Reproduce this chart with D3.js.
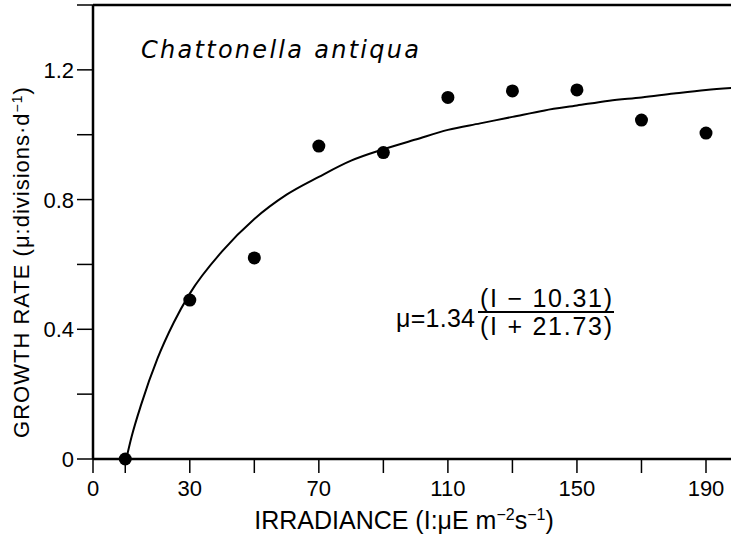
<!DOCTYPE html>
<html lang="en">
<head>
<meta charset="UTF-8">
<title>Chattonella antiqua</title>
<script src="https://d3js.org/d3.v7.min.js"></script>
<style>
    body { margin: 0; background: #fff; }
    svg { display: block; }
    text { font-family: "Liberation Sans", Arial, sans-serif; fill: #000; }
</style>
</head>
<body>
<div id="chart"></div>
<script>
    // measured points
    const irradiance = [10, 30, 50, 70, 90, 110, 130, 150, 170, 190];
    const growth = [0, 0.49, 0.62, 0.965, 0.945, 1.115, 1.135, 1.138, 1.045, 1.005];

    // fitted curve
    const curveI = [10.31, 12, 15, 20, 25, 30, 40, 50, 60, 70, 80, 90, 100, 110, 120, 130, 140, 150, 160, 170, 180, 190, 200];
    const curveMu = [0, 0.07, 0.17, 0.31, 0.42, 0.51, 0.64, 0.74, 0.815, 0.87, 0.92, 0.955, 0.985, 1.015, 1.035, 1.055, 1.075, 1.09, 1.105, 1.115, 1.127, 1.138, 1.146];

    const xTicks = [0, 10, 30, 50, 70, 90, 110, 130, 150, 170, 190];
    const xLabels = [0, 30, 70, 110, 150, 190];
    const yTicks = [0, 0.2, 0.4, 0.6, 0.8, 1.0, 1.2, 1.4];
    const yLabels = [0, 0.4, 0.8, 1.2];

    const width = 731, height = 537;
    const padLeft = 93, padBottom = 459, padTop = 5;

    const x = d3.scaleLinear().domain([0, 190]).range([padLeft, 706]);
    const y = d3.scaleLinear().domain([0, 1.4]).range([padBottom, padTop]);

    const svg = d3.select("#chart").append("svg")
        .attr("width", width)
        .attr("height", height);

    // frame lines
    svg.append("line").attr("x1", x(0)).attr("x2", width).attr("y1", y(1.4)).attr("y2", y(1.4))
        .attr("stroke", "#000").attr("stroke-width", 2.5);
    svg.append("line").attr("x1", x(0)).attr("x2", width).attr("y1", y(0)).attr("y2", y(0))
        .attr("stroke", "#000").attr("stroke-width", 2.5);
    svg.append("line").attr("x1", x(0)).attr("x2", x(0)).attr("y1", y(1.4)).attr("y2", y(0))
        .attr("stroke", "#000").attr("stroke-width", 2.5);

    // x ticks
    svg.selectAll(".xt").data(xTicks).enter().append("line")
        .attr("x1", d => x(d)).attr("x2", d => x(d))
        .attr("y1", y(0)).attr("y2", y(0) + 14)
        .attr("stroke", "#000").attr("stroke-width", 1.5);
    svg.selectAll(".xl").data(xLabels).enter().append("text")
        .attr("x", d => x(d)).attr("y", 496)
        .attr("text-anchor", "middle")
        .attr("font-size", 22)
        .text(d => d);

    // y ticks
    svg.selectAll(".yt").data(yTicks).enter().append("line")
        .attr("x1", x(0) - 16).attr("x2", x(0))
        .attr("y1", d => y(d)).attr("y2", d => y(d))
        .attr("stroke", "#000").attr("stroke-width", 1.5);
    svg.selectAll(".yl").data(yLabels).enter().append("text")
        .attr("x", 74).attr("y", d => y(d) + 8)
        .attr("text-anchor", "end")
        .attr("font-size", 22)
        .text(d => d === 0 ? "0" : d.toFixed(1));

    // curve
    const line = d3.line()
        .x((d, i) => x(curveI[i]))
        .y(d => y(d))
        .curve(d3.curveMonotoneX);
    svg.append("path").datum(curveMu)
        .attr("d", line)
        .attr("fill", "none")
        .attr("stroke", "#000")
        .attr("stroke-width", 2);

    // points
    svg.selectAll(".pt").data(growth).enter().append("circle")
        .attr("cx", (d, i) => x(irradiance[i]))
        .attr("cy", d => y(d))
        .attr("r", 6.5)
        .attr("fill", "#000");

    // species label
    svg.append("text")
        .attr("x", 141).attr("y", 58)
        .attr("font-size", 24)
        .attr("font-style", "italic")
        .style("font-family", "'DejaVu Sans', sans-serif")
        .attr("textLength", 278)
        .text("Chattonella antiqua");

    // equation
    const eq = svg.append("g");
    eq.append("text").attr("x", 396).attr("y", 327).attr("font-size", 25)
        .attr("textLength", 79).text("μ=1.34");
    eq.append("text").attr("x", 546).attr("y", 307).attr("font-size", 25)
        .attr("text-anchor", "middle").attr("textLength", 132).text("(I − 10.31)");
    eq.append("line").attr("x1", 478).attr("x2", 614).attr("y1", 312).attr("y2", 312)
        .attr("stroke", "#000").attr("stroke-width", 2);
    eq.append("text").attr("x", 546).attr("y", 335).attr("font-size", 25)
        .attr("text-anchor", "middle").attr("textLength", 132).text("(I + 21.73)");

    // x title
    const xt = svg.append("text")
        .attr("x", 404).attr("y", 529)
        .attr("text-anchor", "middle")
        .attr("font-size", 25);
    xt.append("tspan").text("IRRADIANCE (I:μE m");
    xt.append("tspan").attr("dy", -9).attr("font-size", 16).text("−2");
    xt.append("tspan").attr("dy", 9).text("s");
    xt.append("tspan").attr("dy", -9).attr("font-size", 16).text("−1");
    xt.append("tspan").attr("dy", 9).text(")");

    // y title
    const yt = svg.append("text")
        .attr("transform", "translate(29,262) rotate(-90)")
        .attr("text-anchor", "middle")
        .attr("font-size", 22)
        .attr("letter-spacing", 1);
    yt.append("tspan").text("GROWTH RATE (μ:divisions·d");
    yt.append("tspan").attr("dy", -7).attr("font-size", 14).text("−1");
    yt.append("tspan").attr("dy", 7).text(")");
</script>
</body>
</html>
